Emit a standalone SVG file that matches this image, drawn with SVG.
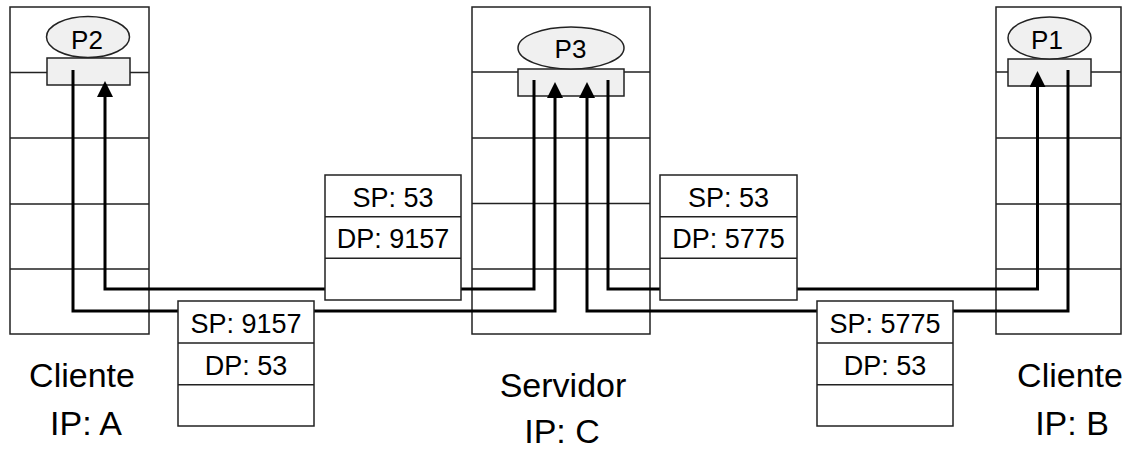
<svg xmlns="http://www.w3.org/2000/svg" width="1136" height="450" viewBox="0 0 1136 450">
<style>
.box{fill:#fff;stroke:#222;stroke-width:1.5}
.row{stroke:#222;stroke-width:1.5;fill:none}
.port{fill:#f0f0f0;stroke:#222;stroke-width:1.5}
.conn{fill:none;stroke:#000;stroke-width:3}
.t{font-family:"Liberation Sans",Arial,sans-serif;fill:#000;text-anchor:middle}
.pk{font-size:27px}
.lbl{font-size:34px}
.pl{font-size:26px}
</style>
<defs>
<marker id="ah" viewBox="0 0 16 16" markerWidth="16" markerHeight="16" refX="2" refY="8" orient="auto" markerUnits="userSpaceOnUse">
<path d="M0,0 L16,8 L0,16 z" fill="#000"/>
</marker>
</defs>
<rect width="1136" height="450" fill="#fff"/>
<g id="hostA">
<rect class="box" x="10" y="7" width="139" height="327"/>
<path class="row" d="M10,72.5H149M10,138H149M10,204H149M10,269H149"/>
<rect class="port" x="47" y="58" width="83" height="27"/>
<ellipse class="port" cx="88" cy="37" rx="41.5" ry="20.5"/>
<text class="t pl" x="87" y="48.5">P2</text>
<text class="t lbl" x="82" y="387">Cliente</text>
<text class="t lbl" x="86" y="435">IP: A</text>
</g>
<g id="hostC">
<rect class="box" x="472" y="7" width="178" height="327"/>
<path class="row" d="M472,72H650M472,138H650M472,203.5H650M472,269H650"/>
<rect class="port" x="518" y="69" width="106" height="27"/>
<ellipse class="port" cx="571" cy="48" rx="53" ry="21"/>
<text class="t pl" x="570.5" y="58">P3</text>
<text class="t lbl" x="563" y="397">Servidor</text>
<text class="t lbl" x="562" y="443">IP: C</text>
</g>
<g id="hostB">
<rect class="box" x="996" y="7" width="125" height="327"/>
<path class="row" d="M996,72H1121M996,138H1121M996,204H1121M996,269H1121"/>
<rect class="port" x="1008" y="59" width="83" height="27"/>
<ellipse class="port" cx="1049.5" cy="38" rx="41.5" ry="21"/>
<text class="t pl" x="1047" y="49">P1</text>
<text class="t lbl" x="1070" y="387">Cliente</text>
<text class="t lbl" x="1072" y="435">IP: B</text>
</g>
<g id="connectors">
<path class="conn" d="M73,70V311H555V96" marker-end="url(#ah)"/>
<path class="conn" d="M534,80V289H105V95" marker-end="url(#ah)"/>
<path class="conn" d="M1068,70V311H587V96" marker-end="url(#ah)"/>
<path class="conn" d="M608,80V289H1037.5V85" marker-end="url(#ah)"/>
</g>
<g id="pkt1">
<rect class="box" x="178" y="301" width="136" height="125"/>
<path class="row" d="M178,343H314M178,384.7H314"/>
<text class="t pk" x="246" y="332.5">SP: 9157</text>
<text class="t pk" x="246" y="375">DP: 53</text>
</g>
<g id="pkt2">
<rect class="box" x="325" y="175" width="136" height="125"/>
<path class="row" d="M325,216.7H461M325,258.3H461"/>
<text class="t pk" x="393" y="206.5">SP: 53</text>
<text class="t pk" x="393" y="248.3">DP: 9157</text>
</g>
<g id="pkt3">
<rect class="box" x="660" y="175" width="137" height="125"/>
<path class="row" d="M660,216.7H797M660,258.3H797"/>
<text class="t pk" x="728.5" y="206.5">SP: 53</text>
<text class="t pk" x="728.5" y="248.3">DP: 5775</text>
</g>
<g id="pkt4">
<rect class="box" x="817" y="301" width="136" height="125"/>
<path class="row" d="M817,343H953M817,384.7H953"/>
<text class="t pk" x="885" y="332.5">SP: 5775</text>
<text class="t pk" x="885" y="375">DP: 53</text>
</g>
</svg>
